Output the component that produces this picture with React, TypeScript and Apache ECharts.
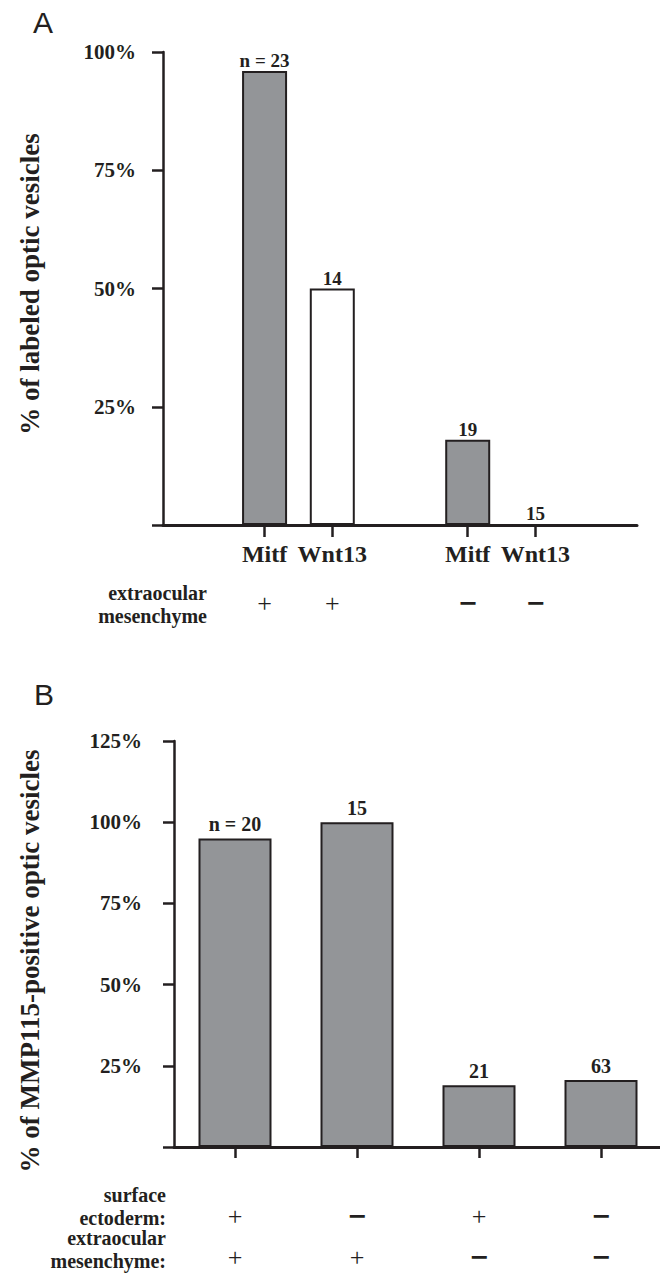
import { useEffect, useRef } from 'react';
import * as echarts from 'echarts';

const INK = '#231f20';
const GRAY = '#939598';
const SERIF = 'Liberation Serif';
const SANS = 'Liberation Sans';

// ---------- Panel A data ----------
const aCategories = ['', 'Mitf', 'Wnt13', '', 'Mitf', 'Wnt13', ''];
const aValues: (number | null)[] = [null, 96, 50, null, 18, 0, null];
const aCounts = ['', 'n = 23', '14', '', '19', '15', ''];
const aFilled = [false, true, false, false, true, false, false];
const aMesenchyme = ['', '+', '+', '', '−', '−', ''];
const aYMax = 100;
const aTitle = '% of labeled optic vesicles';

// ---------- Panel B data ----------
const bCategories = ['c1', 'c2', 'c3', 'c4'];
const bValues = [95, 100, 19, 20.6];
const bCounts = ['n = 20', '15', '21', '63'];
const bEctoderm = ['+', '−', '+', '−'];
const bMesenchyme = ['+', '+', '−', '−'];
const bYMax = 125;
const bTitle = '% of MMP115-positive optic vesicles';

const yInterval = 25;

const signRich = {
  p: { fontFamily: SERIF, fontSize: 26, fontWeight: 'normal', color: INK, lineHeight: 20 },
  m: { fontFamily: 'DejaVu Sans', fontSize: 24, fontWeight: 'bold', color: INK, lineHeight: 20 },
};
const signFormatter = (signs: string[]) => (_v: string, i: number) =>
  signs[i] === '+' ? '{p|+}' : signs[i] ? '{m|−}' : '';

const pctFormatter = (v: number) => (v === 0 ? '' : v + '%');

const yAxisBase = {
  type: 'value',
  splitLine: { show: false },
  axisLine: { show: true, lineStyle: { color: INK, width: 2.5 } },
  axisTick: { show: true, length: 11, lineStyle: { color: INK, width: 2.5 } },
};

const signAxis = (gridIndex: number, data: string[], signs: string[], margin: number) => ({
  type: 'category',
  gridIndex,
  position: 'bottom',
  data,
  axisLine: { show: false },
  axisTick: { show: false },
  axisLabel: { interval: 0, margin, formatter: signFormatter(signs), rich: signRich },
});

export default function App() {
  const ref = useRef<HTMLDivElement>(null);
  useEffect(() => {
    if (!ref.current) return;
    const chart = echarts.init(ref.current, null, { renderer: 'svg' });
    const txt = (text: string, x: number, y: number, size: number, opts: any = {}) => ({
      type: 'text',
      x,
      y,
      rotation: opts.rotation || 0,
      style: {
        text,
        fontFamily: opts.family || SERIF,
        fontWeight: opts.weight || 'bold',
        fontSize: size,
        lineHeight: opts.lineHeight,
        fill: INK,
        align: opts.align || 'center',
        verticalAlign: 'middle',
        textAlign: opts.align || 'center',
        textVerticalAlign: 'middle',
      },
    });
    chart.setOption({
      animation: false,
      backgroundColor: '#ffffff',
      grid: [
        { left: 163, top: 52, width: 474, height: 473, outerBoundsMode: 'none' },
        { left: 174, top: 741, width: 488, height: 406, outerBoundsMode: 'none' },
      ],
      xAxis: [
        {
          type: 'category',
          gridIndex: 0,
          data: aCategories,
          axisLine: { show: true, lineStyle: { color: INK, width: 3 } },
          axisTick: {
            show: true,
            alignWithLabel: true,
            interval: (_i: number, v: string) => v !== '',
            length: 12,
            lineStyle: { color: INK, width: 2.5 },
          },
          axisLabel: {
            interval: 0,
            margin: 17,
            fontFamily: SERIF,
            fontWeight: 'bold',
            fontSize: 24,
            color: INK,
          },
        },
        signAxis(0, aCategories.map((_, i) => 'a' + i), aMesenchyme, 68),
        {
          type: 'category',
          gridIndex: 1,
          data: bCategories,
          axisLine: { show: true, lineStyle: { color: INK, width: 3 } },
          axisTick: {
            show: true,
            alignWithLabel: true,
            interval: 0,
            length: 11,
            lineStyle: { color: INK, width: 2.5 },
          },
          axisLabel: { show: true, formatter: () => '' },
        },
        signAxis(1, bCategories.map((_, i) => 'e' + i), bEctoderm, 59),
        signAxis(1, bCategories.map((_, i) => 'm' + i), bMesenchyme, 100),
      ],
      yAxis: [
        {
          ...yAxisBase,
          gridIndex: 0,
          min: 0,
          max: aYMax,
          interval: yInterval,
          axisLabel: { formatter: pctFormatter, fontFamily: SERIF, fontWeight: 'bold', fontSize: 21, color: INK, margin: 27 },
        },
        {
          ...yAxisBase,
          gridIndex: 1,
          min: 0,
          max: bYMax,
          interval: yInterval,
          axisLabel: { formatter: pctFormatter, fontFamily: SERIF, fontWeight: 'bold', fontSize: 21, color: INK, margin: 32 },
        },
      ],
      series: [
        {
          type: 'bar',
          xAxisIndex: 0,
          yAxisIndex: 0,
          barWidth: 45,
          data: aValues.map((v, i) =>
            v === null ? '-' : { value: v, itemStyle: { color: aFilled[i] ? GRAY : '#ffffff' } }
          ),
          itemStyle: { borderColor: INK, borderWidth: 2 },
          label: {
            show: true,
            position: 'top',
            distance: 1,
            formatter: (p: any) => aCounts[p.dataIndex],
            fontFamily: SERIF,
            fontWeight: 'bold',
            fontSize: 19,
            color: INK,
          },
        },
        {
          type: 'bar',
          xAxisIndex: 2,
          yAxisIndex: 1,
          barWidth: 73,
          data: bValues,
          itemStyle: { color: GRAY, borderColor: INK, borderWidth: 2 },
          label: {
            show: true,
            position: 'top',
            distance: 4,
            formatter: (p: any) => bCounts[p.dataIndex],
            fontFamily: SERIF,
            fontWeight: 'bold',
            fontSize: 20,
            color: INK,
          },
        },
      ],
      graphic: [
        txt('A', 33, 22, 30, { family: SANS, weight: 'normal', align: 'left' }),
        txt('B', 34, 694, 30, { family: SANS, weight: 'normal', align: 'left' }),
        txt(aTitle, 30, 284, 27, { rotation: Math.PI / 2 }),
        txt(bTitle, 30, 961, 27, { rotation: Math.PI / 2 }),
        txt('extraocular\nmesenchyme', 207, 604, 20, { align: 'right', lineHeight: 23 }),
        txt('surface\nectoderm:', 166, 1206, 20, { align: 'right', lineHeight: 23 }),
        txt('extraocular\nmesenchyme:', 166, 1249, 20, { align: 'right', lineHeight: 23 }),
      ],
    });
    return () => chart.dispose();
  }, []);
  return (
    <div
      ref={ref}
      style={{ position: 'absolute', left: 0, top: 0, width: 660, height: 1274, background: '#fff' }}
    />
  );
}
